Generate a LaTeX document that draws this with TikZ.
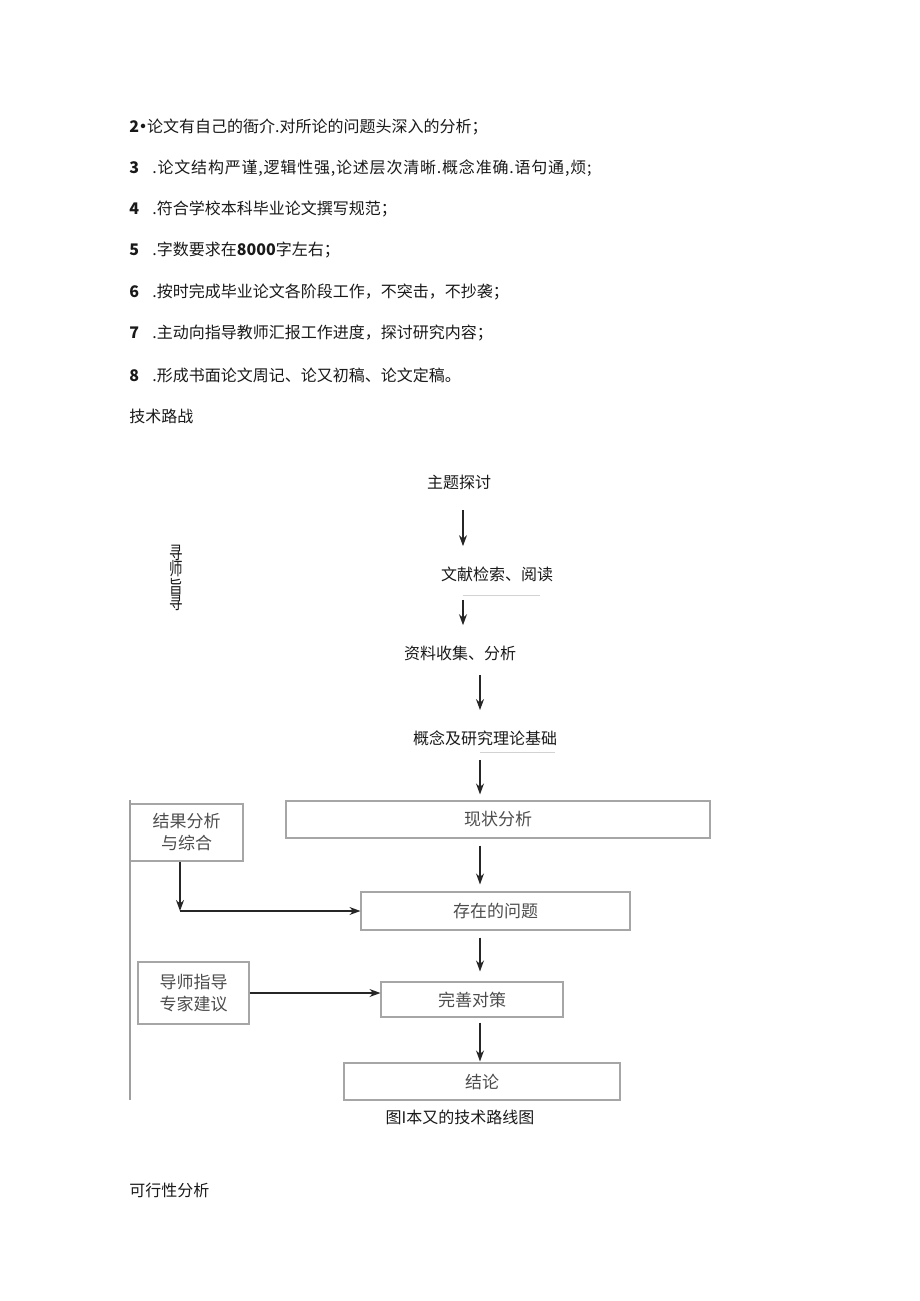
\documentclass[tikz,border=0pt]{standalone}
\usepackage{fontspec}
\setmainfont{Noto Sans CJK SC}
\usetikzlibrary{arrows.meta}
\begin{document}
\begin{tikzpicture}[x=1pt,y=-1pt,
  thick,line node/.style={anchor=west,inner sep=0pt,text=black!90,font=\fontsize{16}{18}\selectfont},
  text node/.style={inner sep=0pt,text=black!90,font=\fontsize{16}{18}\selectfont},
  main node/.style={draw=gray!70,line width=1.1pt,inner sep=0pt,text=black!70,font=\fontsize{17}{22}\selectfont,align=center},
  arr/.style={-{Stealth[length=11pt,width=8pt]},black!85,line width=1.3pt}]

  \useasboundingbox (0,0) rectangle (920,1301);

  % text above the picture
  \node[line node] (l2) at (129,127) {\textbf{2}\kern-4pt\textbf{•}\kern-4pt论文有自己的衙介.对所论的问题头深入的分析；};
  \node[line node] (l3) at (129,168) {\makebox[23pt][l]{\textbf{3}}\addfontfeature{LetterSpace=5}.论文结构严谨,逻辑性强,论述层次清晰.概念准确.语句通,烦;};
  \node[line node] (l4) at (129,209) {\makebox[23pt][l]{\textbf{4}}.符合学校本科毕业论文撰写规范；};
  \node[line node] (l5) at (129,250) {\makebox[23pt][l]{\textbf{5}}.字数要求在\textbf{8000}字左右；};
  \node[line node] (l6) at (129,292) {\makebox[23pt][l]{\textbf{6}}.按时完成毕业论文各阶段工作，不突击，不抄袭；};
  \node[line node] (l7) at (129,333) {\makebox[23pt][l]{\textbf{7}}.主动向指导教师汇报工作进度，探讨研究内容；};
  \node[line node] (l8) at (129,375) {\makebox[23pt][l]{\textbf{8}}.形成书面论文周记、论又初稿、论文定稿。};
  \node[line node] (head) at (129,416) {技术路战};

  % upper steps
  \node[text node] (topic) at (459,482) {主题探讨};
  \node[text node] (lit) at (497,574) {文献检索、阅读};
  \node[text node] (data) at (460,653) {资料收集、分析};
  \node[text node] (theory) at (485,738) {概念及研究理论基础};
  \node[text node,font=\fontsize{18}{16.5}\selectfont,align=center,xscale=0.75] (tutor) at (176,578) {寻\\师\\旨\\寻};

  % boxes
  \node[main node,minimum width=424pt,minimum height=37pt] (now) at (498,819.5) {现状分析};
  \node[main node,minimum width=269pt,minimum height=38pt] (prob) at (495.5,911) {存在的问题};
  \node[main node,minimum width=182pt,minimum height=35pt] (strat) at (472,999.5) {完善对策};
  \node[main node,minimum width=276pt,minimum height=37pt] (concl) at (482,1081.5) {结论};
  \node[main node,minimum width=113pt,minimum height=57pt] (res) at (186.5,832.5) {结果分析\\与综合};
  \node[main node,minimum width=111pt,minimum height=62pt] (adv) at (193.5,993) {导师指导\\专家建议};

  \node[text node] (cap) at (460,1117) {图I本又的技术路线图};
  \node[line node] (feas) at (129,1190) {可行性分析};

  \coordinate (s1) at (463,0);
  \coordinate (s2) at (480,0);
  \coordinate (corner) at (180,911);
  \coordinate (ftop) at (130,800);
  \coordinate (fbot) at (130,1100);

  % connectors
  \draw[arr,shorten <=20pt,shorten >=20pt] (topic.south -| s1) -- (lit.north -| s1);
  \draw[arr,shorten <=18pt,shorten >=20pt] (lit.south -| s1) -- (data.north -| s1);
  \draw[arr,shorten <=14pt,shorten >=20pt] (data.south -| s2) -- (theory.north -| s2);
  \draw[arr,shorten <=14pt,shorten >=6pt] (theory.south -| s2) -- (now.north -| s2);
  \draw[arr,shorten <=7pt,shorten >=7pt] (now.south -| s2) -- (prob.north -| s2);
  \draw[arr,shorten <=7pt,shorten >=10pt] (prob.south -| s2) -- (strat.north -| s2);
  \draw[arr,shorten <=5pt,shorten >=1pt] (strat.south -| s2) -- (concl.north -| s2);
  \draw[arr] (res.south -| corner) -- (corner);
  \draw[arr] (corner) -- (prob.west);
  \draw[arr] (adv.east) -- (strat.west |- adv.east);
  \draw[gray!75,line width=1.1pt] (ftop) -- (fbot);

  % faint rules under two steps
  \draw[gray!35,very thin] (lit.south west) ++(22,13) -- ++(77,0);
  \draw[gray!35,very thin] (theory.south west) ++(67,6) -- ++(75,0);
\end{tikzpicture}
\end{document}
